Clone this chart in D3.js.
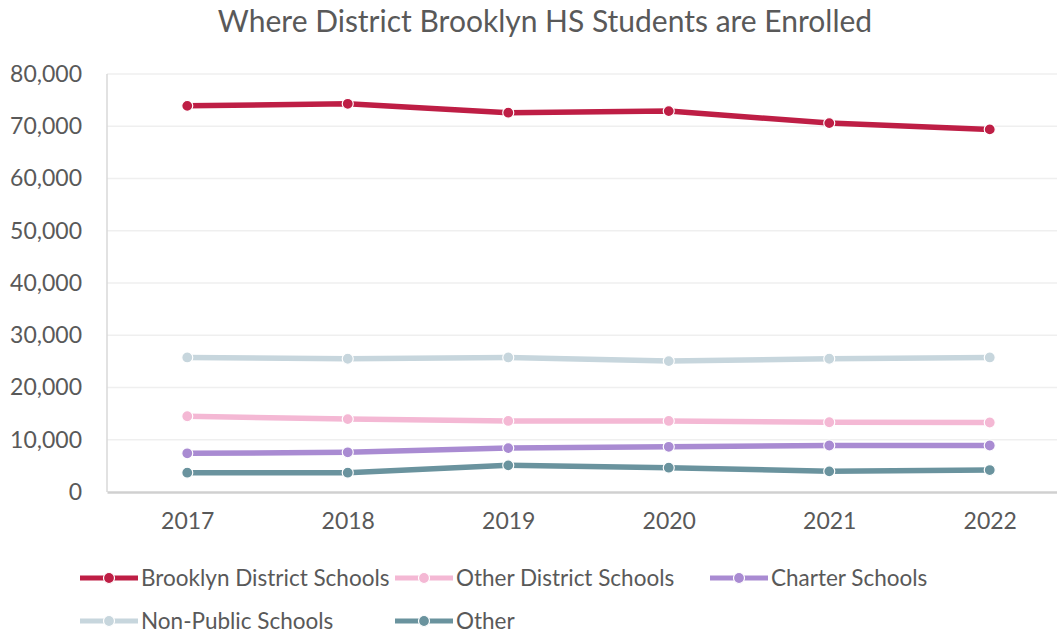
<!DOCTYPE html>
<html>
<head>
<meta charset="utf-8">
<script src="https://cdn.jsdelivr.net/npm/d3@7"></script>
<style>
  body { margin: 0; background: #fff; }
  text { font-family: Lato, 'Open Sans', sans-serif; fill: #595959; }
</style>
</head>
<body>
<div id="chart-area"></div>
<script>
// Data
const years = ['2017', '2018', '2019', '2020', '2021', '2022'];
const yTicks = [0, 10000, 20000, 30000, 40000, 50000, 60000, 70000, 80000];

const brooklynDistrict = [73900, 74300, 72600, 72900, 70600, 69400];
const otherDistrict = [14500, 13950, 13600, 13600, 13350, 13300];
const charter = [7400, 7600, 8400, 8650, 8900, 8900];
const nonPublic = [25750, 25500, 25750, 25050, 25500, 25750];
const other = [3700, 3700, 5100, 4650, 3950, 4200];

const seriesNames = ['Brooklyn District Schools', 'Other District Schools', 'Charter Schools', 'Non-Public Schools', 'Other'];
const seriesValues = [brooklynDistrict, otherDistrict, charter, nonPublic, other];
const seriesColors = ['#BE1E45', '#F4B8D4', '#A98BD2', '#C7D6DD', '#6A939E'];

const width = 1057;
const height = 633;
const margin = { left: 107, right: -13, top: 74, bottom: 141 };
const chartWidth = width - margin.left - margin.right;
const chartHeight = height - margin.top - margin.bottom;

const svg = d3.select('#chart-area')
    .append('svg')
    .attr('width', width)
    .attr('height', height);

// Title
svg.append('text')
    .attr('x', 545)
    .attr('y', 32)
    .attr('text-anchor', 'middle')
    .attr('font-size', '30px')
    .text('Where District Brooklyn HS Students are Enrolled');

const chartGroup = svg.append('g')
    .attr('transform', `translate(${margin.left}, ${margin.top})`);

// Scales
const x = d3.scalePoint()
    .domain(years)
    .range([0, chartWidth])
    .padding(0.5);

const y = d3.scaleLinear()
    .domain([0, 80000])
    .range([chartHeight, 0]);

// Gridlines
chartGroup.append('g')
    .selectAll('line')
    .data(yTicks.slice(1))
    .enter()
    .append('line')
    .attr('x1', 0)
    .attr('x2', chartWidth)
    .attr('y1', (d) => y(d))
    .attr('y2', (d) => y(d))
    .attr('stroke', '#efefef')
    .attr('stroke-width', 1.5);

// Left frame line
chartGroup.append('line')
    .attr('x1', 0).attr('x2', 0)
    .attr('y1', 0).attr('y2', chartHeight)
    .attr('stroke', '#d9d9d9')
    .attr('stroke-width', 1.5);

// Y axis
const yAxisCall = d3.axisLeft(y)
    .tickValues(yTicks)
    .tickSize(0)
    .tickPadding(25)
    .tickFormat(d3.format(','));
const yAxisGroup = chartGroup.append('g').call(yAxisCall);
yAxisGroup.select('.domain').remove();
yAxisGroup.selectAll('text')
    .attr('font-size', '23px')
    .attr('fill', '#595959')
    .attr('font-family', 'Lato, sans-serif');

// X axis
const xAxisCall = d3.axisBottom(x)
    .tickSize(0)
    .tickPadding(21);
const xAxisGroup = chartGroup.append('g')
    .attr('transform', `translate(0, ${chartHeight})`)
    .call(xAxisCall);
xAxisGroup.select('.domain')
    .attr('stroke', '#d0d0d0')
    .attr('stroke-width', 2.5);
xAxisGroup.selectAll('text')
    .attr('font-size', '23px')
    .attr('fill', '#595959')
    .attr('font-family', 'Lato, sans-serif');

// Lines - draw bottom of legend order first so Brooklyn sits on top
const line = d3.line()
    .x((d, i) => x(years[i]))
    .y((d) => y(d));

const order = [3, 4, 2, 1, 0];
order.forEach((s) => {
    const g = chartGroup.append('g');
    g.append('path')
        .datum(seriesValues[s])
        .attr('d', line)
        .attr('fill', 'none')
        .attr('stroke', seriesColors[s])
        .attr('stroke-width', 5.5)
        .attr('stroke-linejoin', 'round');
    g.selectAll('circle')
        .data(seriesValues[s])
        .enter()
        .append('circle')
        .attr('cx', (d, i) => x(years[i]))
        .attr('cy', (d) => y(d))
        .attr('r', 5.5)
        .attr('fill', seriesColors[s])
        .attr('stroke', '#fff')
        .attr('stroke-width', 1.2);
});

// Legend
const legendPos = [[80, 578], [395, 578], [710, 578], [80, 621], [395, 621]];
seriesNames.forEach((name, i) => {
    const row = svg.append('g')
        .attr('transform', `translate(${legendPos[i][0]}, ${legendPos[i][1]})`);
    row.append('line')
        .attr('x1', 0).attr('x2', 58)
        .attr('y1', 0).attr('y2', 0)
        .attr('stroke', seriesColors[i])
        .attr('stroke-width', 5);
    row.append('circle')
        .attr('cx', 29).attr('cy', 0)
        .attr('r', 5.5)
        .attr('fill', seriesColors[i])
        .attr('stroke', '#fff')
        .attr('stroke-width', 1.2);
    row.append('text')
        .attr('x', 61)
        .attr('y', 8)
        .attr('font-size', '22.5px')
        .text(name);
});
</script>
</body>
</html>
